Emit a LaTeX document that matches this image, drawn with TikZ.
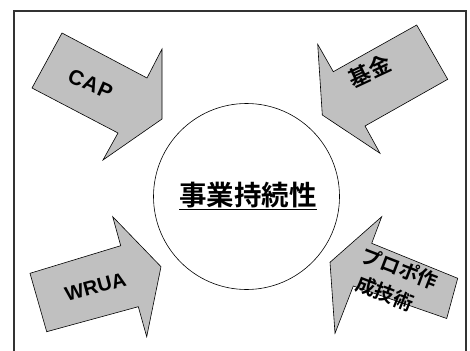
\documentclass[tikz,border=0pt]{standalone}
\usepackage{fontspec}
\setmainfont{Liberation Sans}
\newfontfamily\cjk{Noto Sans CJK JP}[BoldFont={Noto Sans CJK JP Bold}]
\begin{document}
\begin{tikzpicture}[x=1pt,y=-1pt,
  arrowshape/.style={fill={rgb,255:red,192;green,192;blue,192},draw=black,line width=0.6pt,line join=miter},
  lab/.style={font=\bfseries,inner sep=0pt,align=center}]
\useasboundingbox (0,0) rectangle (470,350);
\fill[white] (0,0) rectangle (470,350);
\draw[line width=2pt,draw={rgb,255:red,51;green,51;blue,51}] (13.7,360) -- (13.7,11) -- (466.3,11) -- (466.3,360);
% circle
\node[draw=black,line width=0.6pt,circle,minimum size=186pt,inner sep=0pt] (c) at (246.5,196.5) {};
\node[lab,font=\cjk\bfseries\fontsize{27.5}{30}\selectfont] (t) at (248,196) {\underline{事業持続性}};
% CAP arrow
\filldraw[arrowshape] (62,33) -- (147,78) -- (162,49) -- (162,119) -- (103,160) -- (118,133) -- (32,88) -- cycle;
\node[lab,font=\bfseries\fontsize{21}{23}\selectfont,rotate=-24] (cap) at (90.5,84) {C\kern1ptA\kern1ptP};
% kikin arrow
\filldraw[arrowshape] (416.7,25) -- (447.7,79.3) -- (365,126) -- (380,153.3) -- (322.3,115) -- (317.7,44.3) -- (333.3,71.7) -- cycle;
\node[lab,font=\cjk\bfseries\fontsize{22}{24}\selectfont,rotate=25] (kk) at (370,71) {基金};
% WRUA arrow
\filldraw[arrowshape] (30,273.3) -- (120.7,245.7) -- (112.7,216.7) -- (161,266.7) -- (146.7,336.7) -- (138.3,306.7) -- (46.7,331.7) -- cycle;
\node[lab,font=\bfseries\fontsize{20}{22}\selectfont,rotate=15] (wr) at (95.5,287) {WRUA};
% proposal arrow
\filldraw[arrowshape] (330,262.3) -- (381.7,216.7) -- (371.7,243.3) -- (457.7,278.3) -- (446.7,318.5) -- (353.3,286) -- (335,333.3) -- cycle;
\node[lab,font=\cjk\bfseries\fontsize{20}{22}\selectfont,rotate=-21] (pr1) at (400,268.5) {プロポ作};
\node[lab,font=\cjk\bfseries\fontsize{20}{22}\selectfont,rotate=-21] (pr2) at (385,293.5) {成技術};
\end{tikzpicture}
\end{document}
